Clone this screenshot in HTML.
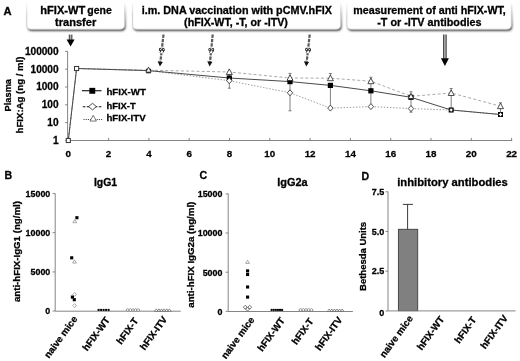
<!DOCTYPE html>
<html><head><meta charset="utf-8"><title>Figure</title>
<style>html,body{margin:0;padding:0;background:#fff;overflow:hidden;}svg{display:block;will-change:transform;opacity:0.999;}text{font-family:"Liberation Sans", Arial, Helvetica, sans-serif;font-weight:bold;fill:#000;stroke:#000;stroke-width:0.28px;}</style>
</head><body>
<svg width="520" height="361" viewBox="0 0 520 361">
<defs><filter id="bl" x="-5%" y="-50%" width="110%" height="200%"><feGaussianBlur stdDeviation="0.8"/></filter><linearGradient id="sg" x1="0" y1="0" x2="0" y2="1"><stop offset="0.2" stop-color="#cfcfcf" stop-opacity="0"/><stop offset="0.6" stop-color="#cfcfcf" stop-opacity="1"/></linearGradient><linearGradient id="shg" gradientUnits="userSpaceOnUse" x1="0" y1="4" x2="0" y2="26"><stop offset="0" stop-color="#4a4a4a" stop-opacity="0"/><stop offset="1" stop-color="#4a4a4a" stop-opacity="1"/></linearGradient></defs>
<rect width="520" height="361" fill="#fff"/>
<path filter="url(#bl)" d="M27.7 -6 V26.5 Q27.7 31.0 32.2 31.0 H121.0 Q125.5 31.0 125.5 26.5 V-6 Z" fill="url(#shg)"/>
<path d="M26.8 -6 V24.7 Q26.8 29.2 31.3 29.2 H120.1 Q124.6 29.2 124.6 24.7 V-6 Z" fill="#fff" stroke="url(#sg)" stroke-width="0.9"/>
<path filter="url(#bl)" d="M133.5 -6 V26.5 Q133.5 31.0 138.0 31.0 H337.0 Q341.5 31.0 341.5 26.5 V-6 Z" fill="url(#shg)"/>
<path d="M132.6 -6 V24.7 Q132.6 29.2 137.1 29.2 H336.1 Q340.6 29.2 340.6 24.7 V-6 Z" fill="#fff" stroke="url(#sg)" stroke-width="0.9"/>
<path filter="url(#bl)" d="M347.8 -6 V26.5 Q347.8 31.0 352.3 31.0 H507.7 Q512.2 31.0 512.2 26.5 V-6 Z" fill="url(#shg)"/>
<path d="M346.9 -6 V24.7 Q346.9 29.2 351.4 29.2 H506.8 Q511.3 29.2 511.3 24.7 V-6 Z" fill="#fff" stroke="url(#sg)" stroke-width="0.9"/>
<text x="40.3" y="13.7" font-size="10.20" text-anchor="start" textLength="45.0" lengthAdjust="spacingAndGlyphs">hFIX-WT</text>
<text x="87.3" y="13.7" font-size="10.20" text-anchor="start" textLength="24.5" lengthAdjust="spacingAndGlyphs">gene</text>
<text x="55.0" y="26.4" font-size="10.20" text-anchor="start" textLength="41.2" lengthAdjust="spacingAndGlyphs">transfer</text>
<text x="141.8" y="13.7" font-size="10.20" text-anchor="start" textLength="190.1" lengthAdjust="spacingAndGlyphs">i.m. DNA vaccination with pCMV.hFIX</text>
<text x="184.1" y="26.4" font-size="10.20" text-anchor="start" textLength="103.8" lengthAdjust="spacingAndGlyphs">(hFIX-WT, -T, or -ITV)</text>
<text x="353.3" y="13.7" font-size="10.20" text-anchor="start" textLength="152.5" lengthAdjust="spacingAndGlyphs">measurement of anti hFIX-WT,</text>
<text x="377.2" y="26.4" font-size="10.20" text-anchor="start" textLength="104.4" lengthAdjust="spacingAndGlyphs">-T or -ITV antibodies</text>
<text x="3.4" y="14.8" font-size="10.60" text-anchor="start" textLength="8.1" lengthAdjust="spacingAndGlyphs">A</text>
<path d="M67.6 51.4 V140.5 H512.2" fill="none" stroke="#858585" stroke-width="1"/>
<path d="M65.1 140.4 H67.8" stroke="#858585" stroke-width="1"/>
<text x="58.6" y="143.7" font-size="10.10" text-anchor="end">1</text>
<path d="M65.1 122.6 H67.8" stroke="#858585" stroke-width="1"/>
<text x="58.6" y="125.9" font-size="10.10" text-anchor="end">10</text>
<path d="M65.1 104.8 H67.8" stroke="#858585" stroke-width="1"/>
<text x="58.6" y="108.1" font-size="10.10" text-anchor="end">100</text>
<path d="M65.1 87.0 H67.8" stroke="#858585" stroke-width="1"/>
<text x="58.6" y="90.3" font-size="10.10" text-anchor="end">1000</text>
<path d="M65.1 69.2 H67.8" stroke="#858585" stroke-width="1"/>
<text x="58.6" y="72.5" font-size="10.10" text-anchor="end">10000</text>
<path d="M65.1 51.4 H67.8" stroke="#858585" stroke-width="1"/>
<text x="58.6" y="54.7" font-size="10.10" text-anchor="end">100000</text>
<path d="M68.3 137.9 V140.4" stroke="#858585" stroke-width="1"/>
<text x="68.3" y="157.1" font-size="9.80" text-anchor="middle">0</text>
<path d="M108.6 137.9 V140.4" stroke="#858585" stroke-width="1"/>
<text x="108.6" y="157.1" font-size="9.80" text-anchor="middle">2</text>
<path d="M148.9 137.9 V140.4" stroke="#858585" stroke-width="1"/>
<text x="148.9" y="157.1" font-size="9.80" text-anchor="middle">4</text>
<path d="M189.2 137.9 V140.4" stroke="#858585" stroke-width="1"/>
<text x="189.2" y="157.1" font-size="9.80" text-anchor="middle">6</text>
<path d="M229.5 137.9 V140.4" stroke="#858585" stroke-width="1"/>
<text x="229.5" y="157.1" font-size="9.80" text-anchor="middle">8</text>
<path d="M269.8 137.9 V140.4" stroke="#858585" stroke-width="1"/>
<text x="269.8" y="157.1" font-size="9.80" text-anchor="middle">10</text>
<path d="M310.1 137.9 V140.4" stroke="#858585" stroke-width="1"/>
<text x="310.1" y="157.1" font-size="9.80" text-anchor="middle">12</text>
<path d="M350.4 137.9 V140.4" stroke="#858585" stroke-width="1"/>
<text x="350.4" y="157.1" font-size="9.80" text-anchor="middle">14</text>
<path d="M390.7 137.9 V140.4" stroke="#858585" stroke-width="1"/>
<text x="390.7" y="157.1" font-size="9.80" text-anchor="middle">16</text>
<path d="M431.0 137.9 V140.4" stroke="#858585" stroke-width="1"/>
<text x="431.0" y="157.1" font-size="9.80" text-anchor="middle">18</text>
<path d="M471.3 137.9 V140.4" stroke="#858585" stroke-width="1"/>
<text x="471.3" y="157.1" font-size="9.80" text-anchor="middle">20</text>
<path d="M511.6 137.9 V140.4" stroke="#858585" stroke-width="1"/>
<text x="511.6" y="157.1" font-size="9.80" text-anchor="middle">22</text>
<text transform="translate(11.3,95.2) rotate(-90)" font-size="9.5" text-anchor="middle" textLength="32.4" lengthAdjust="spacingAndGlyphs">Plasma</text>
<text transform="translate(23.3,95.0) rotate(-90)" font-size="9.5" text-anchor="middle" textLength="76.8" lengthAdjust="spacingAndGlyphs">hFIX:Ag (ng / ml)</text>
<polyline points="68.3,140.5 76.6,68.5 148.5,70.2 229.3,72.0 290.0,78.0 330.4,78.2 370.9,81.2 411.0,96.3 451.2,93.0 500.5,106.2" fill="none" stroke="#a0a0a0" stroke-width="0.90" stroke-dasharray="3 2.2"/>
<polyline points="68.3,140.5 76.6,68.5 148.5,70.6 229.3,80.7 290.0,92.8 330.4,108.1 370.9,106.6 411.0,108.6 451.2,110.0 500.5,114.5" fill="none" stroke="#9a9a9a" stroke-width="1.00" stroke-dasharray="1.4 1.7"/>
<polyline points="68.3,140.5 76.6,68.5 148.5,70.6 229.3,78.0 290.0,81.6 330.4,85.4 370.9,90.8 411.0,97.3 451.2,110.0 500.5,114.5" fill="none" stroke="#4a4a4a" stroke-width="1.00"/>
<path d="M229.3 72.0 V88.2" stroke="#555" stroke-width="0.75" fill="none"/>
<path d="M227.8 88.2 H230.8" stroke="#555" stroke-width="0.75" fill="none"/>
<path d="M290.0 78.0 V73.4" stroke="#555" stroke-width="0.75" fill="none"/>
<path d="M288.5 73.4 H291.5" stroke="#555" stroke-width="0.75" fill="none"/>
<path d="M290.0 81.6 V110.8" stroke="#555" stroke-width="0.75" fill="none"/>
<path d="M288.5 110.8 H291.5" stroke="#555" stroke-width="0.75" fill="none"/>
<path d="M330.4 78.0 V73.6" stroke="#555" stroke-width="0.75" fill="none"/>
<path d="M328.9 73.6 H331.9" stroke="#555" stroke-width="0.75" fill="none"/>
<path d="M330.4 85.4 V108.1" stroke="#555" stroke-width="0.75" fill="none"/>
<path d="M370.9 81.0 V77.3" stroke="#555" stroke-width="0.75" fill="none"/>
<path d="M369.4 77.3 H372.4" stroke="#555" stroke-width="0.75" fill="none"/>
<path d="M370.9 81.0 V106.6" stroke="#555" stroke-width="0.75" fill="none"/>
<path d="M411.0 97.0 V91.8" stroke="#555" stroke-width="0.75" fill="none"/>
<path d="M409.5 91.8 H412.5" stroke="#555" stroke-width="0.75" fill="none"/>
<path d="M411.0 97.0 V112.2" stroke="#555" stroke-width="0.75" fill="none"/>
<path d="M409.5 112.2 H412.5" stroke="#555" stroke-width="0.75" fill="none"/>
<path d="M451.2 93.0 V88.5" stroke="#555" stroke-width="0.75" fill="none"/>
<path d="M449.7 88.5 H452.7" stroke="#555" stroke-width="0.75" fill="none"/>
<path d="M451.2 93.0 V110.0" stroke="#555" stroke-width="0.75" fill="none"/>
<path d="M500.5 106.0 V102.8" stroke="#555" stroke-width="0.75" fill="none"/>
<path d="M499.0 102.8 H502.0" stroke="#555" stroke-width="0.75" fill="none"/>
<path d="M500.5 106.0 V114.5" stroke="#555" stroke-width="0.75" fill="none"/>
<rect x="66.25" y="138.45" width="4.10" height="4.10" fill="#fff" stroke="#333" stroke-width="1.00"/>
<rect x="74.55" y="66.45" width="4.10" height="4.10" fill="#fff" stroke="#333" stroke-width="1.00"/>
<rect x="146.20" y="68.70" width="4.60" height="4.60" fill="#000" stroke="none" stroke-width="0.80"/>
<rect x="226.70" y="75.40" width="5.20" height="5.20" fill="#000" stroke="none" stroke-width="0.80"/>
<rect x="287.40" y="79.00" width="5.20" height="5.20" fill="#000" stroke="none" stroke-width="0.80"/>
<rect x="327.80" y="82.80" width="5.20" height="5.20" fill="#000" stroke="none" stroke-width="0.80"/>
<rect x="368.30" y="88.20" width="5.20" height="5.20" fill="#000" stroke="none" stroke-width="0.80"/>
<rect x="408.40" y="94.70" width="5.20" height="5.20" fill="#000" stroke="none" stroke-width="0.80"/>
<rect x="448.70" y="107.50" width="5.00" height="5.00" fill="#000" stroke="none" stroke-width="0.80"/>
<rect x="498.00" y="112.00" width="5.00" height="5.00" fill="#000" stroke="none" stroke-width="0.80"/>
<path d="M229.30 77.70 L232.00 80.70 L229.30 83.70 L226.60 80.70 Z" fill="#fff" stroke="#222" stroke-width="0.80"/>
<path d="M290.00 89.80 L292.70 92.80 L290.00 95.80 L287.30 92.80 Z" fill="#fff" stroke="#222" stroke-width="0.80"/>
<path d="M330.40 105.10 L333.10 108.10 L330.40 111.10 L327.70 108.10 Z" fill="#fff" stroke="#222" stroke-width="0.80"/>
<path d="M370.90 103.60 L373.60 106.60 L370.90 109.60 L368.20 106.60 Z" fill="#fff" stroke="#222" stroke-width="0.80"/>
<path d="M411.00 105.60 L413.70 108.60 L411.00 111.60 L408.30 108.60 Z" fill="#fff" stroke="#222" stroke-width="0.80"/>
<path d="M451.20 107.80 L453.20 110.00 L451.20 112.20 L449.20 110.00 Z" fill="#fff" stroke="#222" stroke-width="0.80"/>
<path d="M500.50 112.30 L502.50 114.50 L500.50 116.70 L498.50 114.50 Z" fill="#fff" stroke="#222" stroke-width="0.80"/>
<path d="M148.50 67.10 L151.20 72.14 L145.80 72.14 Z" fill="#fff" stroke="#222" stroke-width="0.80"/>
<path d="M229.30 68.90 L232.30 74.48 L226.30 74.48 Z" fill="#fff" stroke="#222" stroke-width="0.80"/>
<path d="M290.00 74.90 L293.00 80.48 L287.00 80.48 Z" fill="#fff" stroke="#222" stroke-width="0.80"/>
<path d="M330.40 75.10 L333.40 80.68 L327.40 80.68 Z" fill="#fff" stroke="#222" stroke-width="0.80"/>
<path d="M370.90 78.10 L373.90 83.68 L367.90 83.68 Z" fill="#fff" stroke="#222" stroke-width="0.80"/>
<path d="M411.00 93.50 L413.70 98.54 L408.30 98.54 Z" fill="#fff" stroke="#222" stroke-width="0.80"/>
<path d="M451.20 89.90 L454.20 95.48 L448.20 95.48 Z" fill="#fff" stroke="#222" stroke-width="0.80"/>
<path d="M500.50 103.10 L503.50 108.68 L497.50 108.68 Z" fill="#fff" stroke="#222" stroke-width="0.80"/>
<path d="M81.9 90.7 H101.5" stroke="#222" stroke-width="1.2"/>
<rect x="89.35" y="87.85" width="5.90" height="5.90" fill="#000" stroke="none" stroke-width="0.80"/>
<path d="M82.8 106.7 H102.6" stroke="#111" stroke-width="1.15" stroke-dasharray="2.6 1.4"/>
<path d="M92.50 103.30 L96.40 106.60 L92.50 109.90 L88.60 106.60 Z" fill="#fff" stroke="#222" stroke-width="0.80"/>
<path d="M83.5 119.5 H102.2" stroke="#444" stroke-width="1" stroke-dasharray="1.1 1.1"/>
<path d="M93.20 115.30 L96.40 121.06 L90.00 121.06 Z" fill="#fff" stroke="#555" stroke-width="0.80"/>
<text x="106.4" y="94.8" font-size="9.50" text-anchor="start" textLength="39.5" lengthAdjust="spacingAndGlyphs">hFIX-WT</text>
<text x="106.4" y="108.6" font-size="9.50" text-anchor="start" textLength="29.3" lengthAdjust="spacingAndGlyphs">hFIX-T</text>
<text x="106.4" y="120.9" font-size="9.50" text-anchor="start" textLength="39.2" lengthAdjust="spacingAndGlyphs">hFIX-ITV</text>
<rect x="69.30" y="34.60" width="2.6" height="5.30" fill="#b0b0b0"/>
<path d="M69.30 34.60 V39.90 M71.90 34.60 V39.90" stroke="#222" stroke-width="0.85" fill="none"/>
<path d="M66.60 39.40 L74.60 39.40 L70.60 46.60 Z" fill="#000"/>
<rect x="443.60" y="34.50" width="2.6" height="24.20" fill="#b0b0b0"/>
<path d="M443.60 34.50 V58.70 M446.20 34.50 V58.70" stroke="#222" stroke-width="0.85" fill="none"/>
<path d="M440.90 58.20 L448.90 58.20 L444.90 66.00 Z" fill="#000"/>
<path d="M163.50 34.50 L160.44 61.63" stroke="#5a5a5a" stroke-width="2.2" stroke-dasharray="3.4 1.0" fill="none"/>
<path d="M157.66 61.32 L162.82 61.90 L159.90 66.40 Z" fill="#111"/>
<rect x="158.51" y="47.60" width="6.4" height="5.6" fill="#fff"/>
<ellipse cx="160.31" cy="49.60" rx="0.95" ry="1.25" fill="none" stroke="#222" stroke-width="0.95" transform="rotate(12 160.31 49.60)"/>
<path d="M161.11 50.20 l-1.1 2.4" stroke="#222" stroke-width="0.95" fill="none"/>
<ellipse cx="163.31" cy="49.60" rx="0.95" ry="1.25" fill="none" stroke="#222" stroke-width="0.95" transform="rotate(12 163.31 49.60)"/>
<path d="M164.11 50.20 l-1.1 2.4" stroke="#222" stroke-width="0.95" fill="none"/>
<path d="M212.70 34.50 L210.06 61.62" stroke="#5a5a5a" stroke-width="2.2" stroke-dasharray="3.4 1.0" fill="none"/>
<path d="M207.28 61.35 L212.45 61.85 L209.60 66.40 Z" fill="#111"/>
<rect x="207.95" y="47.62" width="6.4" height="5.6" fill="#fff"/>
<ellipse cx="209.75" cy="49.62" rx="0.95" ry="1.25" fill="none" stroke="#222" stroke-width="0.95" transform="rotate(12 209.75 49.62)"/>
<path d="M210.55 50.22 l-1.1 2.4" stroke="#222" stroke-width="0.95" fill="none"/>
<ellipse cx="212.75" cy="49.62" rx="0.95" ry="1.25" fill="none" stroke="#222" stroke-width="0.95" transform="rotate(12 212.75 49.62)"/>
<path d="M213.55 50.22 l-1.1 2.4" stroke="#222" stroke-width="0.95" fill="none"/>
<path d="M309.70 34.50 L306.72 61.63" stroke="#5a5a5a" stroke-width="2.2" stroke-dasharray="3.4 1.0" fill="none"/>
<path d="M303.94 61.32 L309.11 61.89 L306.20 66.40 Z" fill="#111"/>
<rect x="304.75" y="47.60" width="6.4" height="5.6" fill="#fff"/>
<ellipse cx="306.55" cy="49.60" rx="0.95" ry="1.25" fill="none" stroke="#222" stroke-width="0.95" transform="rotate(12 306.55 49.60)"/>
<path d="M307.35 50.20 l-1.1 2.4" stroke="#222" stroke-width="0.95" fill="none"/>
<ellipse cx="309.55" cy="49.60" rx="0.95" ry="1.25" fill="none" stroke="#222" stroke-width="0.95" transform="rotate(12 309.55 49.60)"/>
<path d="M310.35 50.20 l-1.1 2.4" stroke="#222" stroke-width="0.95" fill="none"/>
<text x="4.4" y="179.4" font-size="10.60" text-anchor="start">B</text>
<text x="93.9" y="185.8" font-size="10.40" text-anchor="start" textLength="23.2" lengthAdjust="spacingAndGlyphs">IgG1</text>
<path d="M55.2 193.5 V311.2 H180.8" fill="none" stroke="#858585" stroke-width="1"/>
<path d="M52.6 311.0 H55.2" stroke="#858585" stroke-width="1"/>
<text x="50.3" y="314.3" font-size="8.90" text-anchor="end" stroke-width="0.12">0</text>
<path d="M52.6 271.9 H55.2" stroke="#858585" stroke-width="1"/>
<text x="50.3" y="275.2" font-size="8.90" text-anchor="end" stroke-width="0.12">5000</text>
<path d="M52.6 232.7 H55.2" stroke="#858585" stroke-width="1"/>
<text x="50.3" y="236.0" font-size="8.90" text-anchor="end" stroke-width="0.12">10000</text>
<path d="M52.6 193.6 H55.2" stroke="#858585" stroke-width="1"/>
<text x="50.3" y="196.9" font-size="8.90" text-anchor="end" stroke-width="0.12">15000</text>
<text transform="translate(20.4,251.6) rotate(-90)" font-size="9.6" text-anchor="middle" textLength="101.0" lengthAdjust="spacingAndGlyphs">anti-hFIX-IgG1 (ng/ml)</text>
<text x="199.6" y="179.4" font-size="10.60" text-anchor="start">C</text>
<text x="277.2" y="185.8" font-size="10.40" text-anchor="start" textLength="30.4" lengthAdjust="spacingAndGlyphs">IgG2a</text>
<path d="M228.2 193.5 V311.5 H352.9" fill="none" stroke="#858585" stroke-width="1"/>
<path d="M225.6 311.3 H228.2" stroke="#858585" stroke-width="1"/>
<text x="222.4" y="314.6" font-size="8.90" text-anchor="end" stroke-width="0.12">0</text>
<path d="M225.6 272.2 H228.2" stroke="#858585" stroke-width="1"/>
<text x="222.4" y="275.5" font-size="8.90" text-anchor="end" stroke-width="0.12">5000</text>
<path d="M225.6 233.0 H228.2" stroke="#858585" stroke-width="1"/>
<text x="222.4" y="236.3" font-size="8.90" text-anchor="end" stroke-width="0.12">10000</text>
<path d="M225.6 193.9 H228.2" stroke="#858585" stroke-width="1"/>
<text x="222.4" y="197.2" font-size="8.90" text-anchor="end" stroke-width="0.12">15000</text>
<text transform="translate(194.0,254.7) rotate(-90)" font-size="9.6" text-anchor="middle" textLength="106.0" lengthAdjust="spacingAndGlyphs">anti-hFIX IgG2a (ng/ml)</text>
<rect x="75.35" y="216.15" width="3.10" height="3.10" fill="#000" stroke="none" stroke-width="0.80"/>
<path d="M74.80 219.50 L76.70 222.74 L72.90 222.74 Z" fill="#fff" stroke="#8c8c8c" stroke-width="0.75"/>
<rect x="70.15" y="256.25" width="3.10" height="3.10" fill="#000" stroke="none" stroke-width="0.80"/>
<path d="M74.50 259.80 L76.40 263.04 L72.60 263.04 Z" fill="#fff" stroke="#8c8c8c" stroke-width="0.75"/>
<path d="M74.70 292.50 L76.60 294.40 L74.70 296.30 L72.80 294.40 Z" fill="#fff" stroke="#8c8c8c" stroke-width="0.75"/>
<rect x="70.85" y="295.55" width="3.10" height="3.10" fill="#000" stroke="none" stroke-width="0.80"/>
<rect x="72.75" y="298.15" width="3.10" height="3.10" fill="#000" stroke="none" stroke-width="0.80"/>
<path d="M74.70 303.70 L76.60 305.60 L74.70 307.50 L72.80 305.60 Z" fill="#fff" stroke="#8c8c8c" stroke-width="0.75"/>
<rect x="97.60" y="308.90" width="2.00" height="2.00" fill="#000" stroke="none" stroke-width="0.80"/>
<rect x="100.10" y="308.90" width="2.00" height="2.00" fill="#000" stroke="none" stroke-width="0.80"/>
<rect x="102.60" y="308.90" width="2.00" height="2.00" fill="#000" stroke="none" stroke-width="0.80"/>
<rect x="105.10" y="308.90" width="2.00" height="2.00" fill="#000" stroke="none" stroke-width="0.80"/>
<rect x="107.60" y="308.90" width="2.00" height="2.00" fill="#000" stroke="none" stroke-width="0.80"/>
<path d="M127.80 308.60 L129.70 310.00 L127.80 311.40 L125.90 310.00 Z" fill="#fff" stroke="#777" stroke-width="0.75"/>
<path d="M130.40 308.60 L132.30 310.00 L130.40 311.40 L128.50 310.00 Z" fill="#fff" stroke="#777" stroke-width="0.75"/>
<path d="M133.00 308.60 L134.90 310.00 L133.00 311.40 L131.10 310.00 Z" fill="#fff" stroke="#777" stroke-width="0.75"/>
<path d="M135.60 308.60 L137.50 310.00 L135.60 311.40 L133.70 310.00 Z" fill="#fff" stroke="#777" stroke-width="0.75"/>
<path d="M138.20 308.60 L140.10 310.00 L138.20 311.40 L136.30 310.00 Z" fill="#fff" stroke="#777" stroke-width="0.75"/>
<path d="M156.40 308.90 L158.30 311.42 L154.50 311.42 Z" fill="#fff" stroke="#666" stroke-width="0.75"/>
<path d="M159.00 308.90 L160.90 311.42 L157.10 311.42 Z" fill="#fff" stroke="#666" stroke-width="0.75"/>
<path d="M161.60 308.90 L163.50 311.42 L159.70 311.42 Z" fill="#fff" stroke="#666" stroke-width="0.75"/>
<path d="M164.20 308.90 L166.10 311.42 L162.30 311.42 Z" fill="#fff" stroke="#666" stroke-width="0.75"/>
<path d="M166.80 308.90 L168.70 311.42 L164.90 311.42 Z" fill="#fff" stroke="#666" stroke-width="0.75"/>
<path d="M169.40 308.90 L171.30 311.42 L167.50 311.42 Z" fill="#fff" stroke="#666" stroke-width="0.75"/>
<text transform="translate(77.9,319.0) rotate(-54)" font-size="9.6" text-anchor="end">naive mice</text>
<text transform="translate(110.2,320.1) rotate(-54)" font-size="9.6" text-anchor="end">hFIX-WT</text>
<text transform="translate(138.8,320.8) rotate(-54)" font-size="9.6" text-anchor="end">hFIX-T</text>
<text transform="translate(167.6,319.3) rotate(-54)" font-size="9.6" text-anchor="end">hFIX-ITV</text>
<path d="M247.60 260.20 L249.50 263.44 L245.70 263.44 Z" fill="#fff" stroke="#8c8c8c" stroke-width="0.75"/>
<rect x="246.05" y="269.35" width="3.10" height="3.10" fill="#000" stroke="none" stroke-width="0.80"/>
<rect x="246.05" y="272.95" width="3.10" height="3.10" fill="#000" stroke="none" stroke-width="0.80"/>
<rect x="246.05" y="285.45" width="3.10" height="3.10" fill="#000" stroke="none" stroke-width="0.80"/>
<rect x="246.05" y="295.55" width="3.10" height="3.10" fill="#000" stroke="none" stroke-width="0.80"/>
<path d="M245.20 305.30 L247.10 307.20 L245.20 309.10 L243.30 307.20 Z" fill="#fff" stroke="#444" stroke-width="0.75"/>
<path d="M249.80 305.30 L251.70 307.20 L249.80 309.10 L247.90 307.20 Z" fill="#fff" stroke="#444" stroke-width="0.75"/>
<path d="M247.50 307.30 L249.40 309.20 L247.50 311.10 L245.60 309.20 Z" fill="#fff" stroke="#444" stroke-width="0.75"/>
<rect x="270.60" y="308.90" width="2.00" height="2.00" fill="#000" stroke="none" stroke-width="0.80"/>
<rect x="272.70" y="308.90" width="2.00" height="2.00" fill="#000" stroke="none" stroke-width="0.80"/>
<rect x="274.80" y="308.90" width="2.00" height="2.00" fill="#000" stroke="none" stroke-width="0.80"/>
<rect x="276.90" y="308.90" width="2.00" height="2.00" fill="#000" stroke="none" stroke-width="0.80"/>
<rect x="279.00" y="308.90" width="2.00" height="2.00" fill="#000" stroke="none" stroke-width="0.80"/>
<rect x="281.10" y="308.90" width="2.00" height="2.00" fill="#000" stroke="none" stroke-width="0.80"/>
<path d="M300.60 308.50 L302.50 309.90 L300.60 311.30 L298.70 309.90 Z" fill="#fff" stroke="#777" stroke-width="0.75"/>
<path d="M303.30 308.50 L305.20 309.90 L303.30 311.30 L301.40 309.90 Z" fill="#fff" stroke="#777" stroke-width="0.75"/>
<path d="M306.00 308.50 L307.90 309.90 L306.00 311.30 L304.10 309.90 Z" fill="#fff" stroke="#777" stroke-width="0.75"/>
<path d="M308.70 308.50 L310.60 309.90 L308.70 311.30 L306.80 309.90 Z" fill="#fff" stroke="#777" stroke-width="0.75"/>
<path d="M311.40 308.50 L313.30 309.90 L311.40 311.30 L309.50 309.90 Z" fill="#fff" stroke="#777" stroke-width="0.75"/>
<path d="M329.20 309.00 L331.10 311.52 L327.30 311.52 Z" fill="#fff" stroke="#666" stroke-width="0.75"/>
<path d="M331.80 309.00 L333.70 311.52 L329.90 311.52 Z" fill="#fff" stroke="#666" stroke-width="0.75"/>
<path d="M334.40 309.00 L336.30 311.52 L332.50 311.52 Z" fill="#fff" stroke="#666" stroke-width="0.75"/>
<path d="M337.00 309.00 L338.90 311.52 L335.10 311.52 Z" fill="#fff" stroke="#666" stroke-width="0.75"/>
<path d="M339.60 309.00 L341.50 311.52 L337.70 311.52 Z" fill="#fff" stroke="#666" stroke-width="0.75"/>
<path d="M342.20 309.00 L344.10 311.52 L340.30 311.52 Z" fill="#fff" stroke="#666" stroke-width="0.75"/>
<text transform="translate(254.8,319.8) rotate(-54)" font-size="9.6" text-anchor="end">naive mice</text>
<text transform="translate(285.2,320.6) rotate(-54)" font-size="9.6" text-anchor="end">hFIX-WT</text>
<text transform="translate(314.0,321.2) rotate(-54)" font-size="9.6" text-anchor="end">hFIX-T</text>
<text transform="translate(342.8,319.8) rotate(-54)" font-size="9.6" text-anchor="end">hFIX-ITV</text>
<text x="361.6" y="179.6" font-size="10.60" text-anchor="start">D</text>
<text x="397.2" y="185.9" font-size="10.50" text-anchor="start" textLength="110.6" lengthAdjust="spacingAndGlyphs">inhibitory antibodies</text>
<rect x="398.4" y="229.3" width="19.3" height="81.4" fill="#808080" stroke="#3c3c3c" stroke-width="0.9"/>
<path d="M407.6 229.3 V204.4 M402.9 204.4 H412.9" stroke="#3a3a3a" stroke-width="1" fill="none"/>
<path d="M388.0 191.6 V310.9 H515.6" fill="none" stroke="#858585" stroke-width="1"/>
<path d="M385.6 311.0 H388.0" stroke="#858585" stroke-width="1"/>
<text x="384.3" y="315.5" font-size="9.00" text-anchor="end" stroke-width="0.1">0</text>
<path d="M385.6 271.2 H388.0" stroke="#858585" stroke-width="1"/>
<text x="384.3" y="274.4" font-size="9.00" text-anchor="end" stroke-width="0.1">2.5</text>
<path d="M385.6 231.5 H388.0" stroke="#858585" stroke-width="1"/>
<text x="384.3" y="234.7" font-size="9.00" text-anchor="end" stroke-width="0.1">5.0</text>
<path d="M385.6 191.8 H388.0" stroke="#858585" stroke-width="1"/>
<text x="384.3" y="195.0" font-size="9.00" text-anchor="end" stroke-width="0.1">7.5</text>
<text transform="translate(366.3,256.4) rotate(-90)" font-size="9.8" text-anchor="middle" textLength="69" lengthAdjust="spacingAndGlyphs">Bethesda Units</text>
<text transform="translate(413.3,318.5) rotate(-54)" font-size="9.6" text-anchor="end">naive mice</text>
<text transform="translate(444.6,319.3) rotate(-54)" font-size="9.6" text-anchor="end">hFIX-WT</text>
<text transform="translate(476.8,319.8) rotate(-54)" font-size="9.6" text-anchor="end">hFIX-T</text>
<text transform="translate(508.2,318.0) rotate(-54)" font-size="9.6" text-anchor="end">hFIX-ITV</text>
</svg></body></html>
